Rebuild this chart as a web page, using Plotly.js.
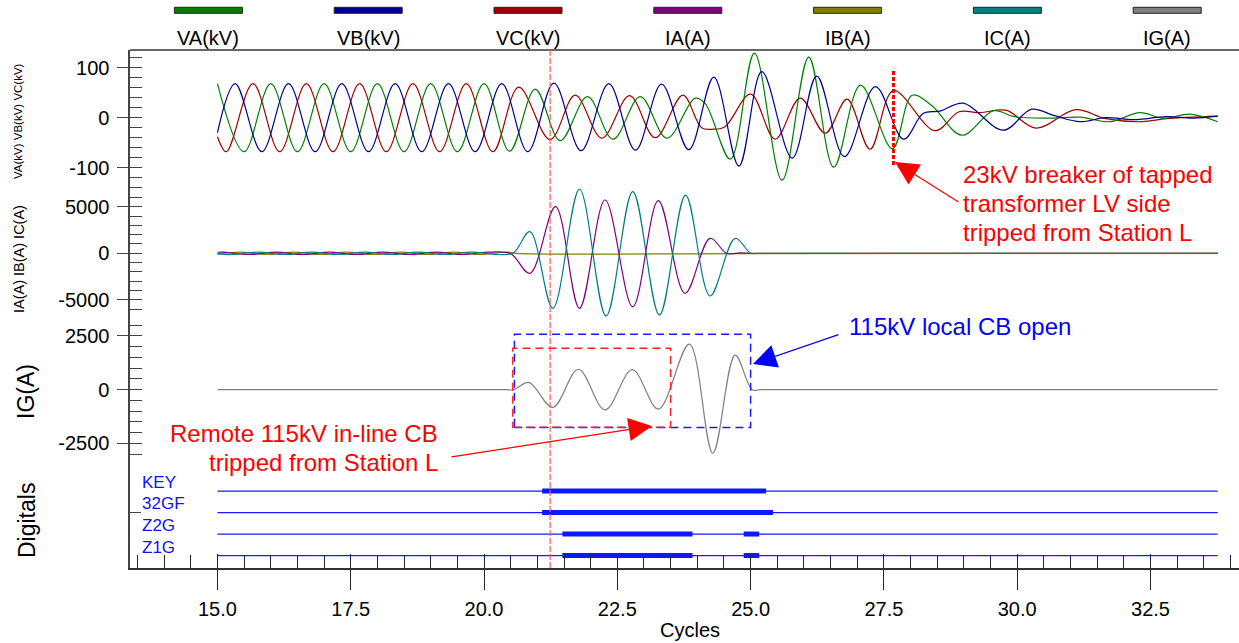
<!DOCTYPE html>
<html><head><meta charset="utf-8">
<script src="https://cdn.plot.ly/plotly-3.0.1.min.js"></script>
<style>html,body{margin:0;padding:0;background:#fff}#chart{width:1239px;height:643px}</style>
</head><body><div id="chart"></div>
<script>
// ---------------- data read from the record ----------------
const channelNames  = ['VA(kV)','VB(kV)','VC(kV)','IA(A)','IB(A)','IC(A)','IG(A)'];
const channelColors = ['#008000','#000090','#a00000','#800080','#808000','#008080','#808080'];

// waveform extrema (cycles, value)
const vaT = [15.0,15.5,16.0,16.5,17.0,17.5,18.0,18.5,19.0,19.5,20.0,20.48,20.96,21.43,21.94,22.42,22.93,23.43,23.96,24.15,24.62,25.07,25.59,26.09,26.56,27.06,27.66,28.03,28.4,28.96,29.56,29.94,30.56,31.18,31.74,32.3,32.74,33.24,33.76];
const vaV = [68,-68,68,-68,68,-68,68,-68,68,-68,68,-67,57,-46,42,-43,42,-41,39,28,-83,129,-125,121,-99,65,-62,45,24,-35,14,2,-1,1,-8,10,-1,7,-8];

const vbT = [15.0,15.333,15.833,16.333,16.833,17.333,17.833,18.333,18.833,19.333,19.833,20.333,20.82,21.31,21.82,22.34,22.84,23.33,23.84,24.31,24.78,25.21,25.78,26.24,26.76,27.34,27.87,28.24,28.55,28.99,29.74,30.27,30.7,31.18,31.66,32.2,32.8,33.3,33.76];
const vbV = [-30,68,-68,68,-68,68,-68,68,-68,68,-68,68,-68,69,-66,68,-65,67,-64,81,-97,92,-81,83,-78,62,-43,9,13,29,-25,17,4,-8,0,-4,2,-1,3];

const vcT = [15.0,15.167,15.667,16.167,16.667,17.167,17.667,18.167,18.667,19.167,19.667,20.167,20.65,21.24,21.71,22.21,22.73,23.21,23.73,24.08,24.3,24.52,25.0,25.46,25.93,26.4,26.81,27.24,27.68,28.46,28.91,29.3,29.79,30.35,31.1,31.66,32.35,32.8,33.76];
const vcV = [-38,-68,68,-68,68,-68,68,-68,68,-68,68,-68,61,-44,45,-41,44,-40,45,-20,-23,-18,47,-43,39,-31,37,-63,54,-26,12,10,15,-21,16,-2,-8,-2,3];

const iaT = [15.0,15.1,15.6,16.1,16.6,17.1,17.6,18.1,18.6,19.1,19.6,20.1,20.5,20.86,21.34,21.79,22.27,22.79,23.27,23.77,24.24,24.55,24.8,25.05,25.3,33.76];
const iaV = [110,130,-130,130,-130,130,-130,130,-130,130,-130,130,-40,-2150,5000,-5900,5720,-5730,5650,-4290,1610,0,40,0,0,0];

const ibT = [15.0,15.43,15.93,16.43,16.93,17.43,17.93,18.43,18.93,19.43,19.93,20.43,20.6,25.0,33.76];
const ibV = [-60,130,-130,130,-130,130,-130,130,-130,130,-130,130,0,-30,0];

const icT = [15.0,15.267,15.767,16.267,16.767,17.267,17.767,18.267,18.767,19.267,19.767,20.267,20.55,20.86,21.29,21.79,22.29,22.79,23.29,23.78,24.24,24.71,25.0,25.12,33.76];
const icV = [-60,-130,130,-130,130,-130,130,-130,130,-130,130,-130,30,2320,-5900,6870,-6730,6610,-6620,6250,-4580,1610,0,0,0];

const igT = [15.0,20.4,20.56,20.84,21.29,21.77,22.27,22.78,23.27,23.85,24.29,24.71,25.03,25.2,33.76];
const igV = [0,0,0,340,-820,950,-940,930,-900,2120,-2950,1610,0,0,0];

// digital channels: on-intervals (cycles)
const digitalNames = ['KEY','32GF','Z2G','Z1G'];
const digitalOn = [
  [[21.09,25.29]],
  [[21.09,25.42]],
  [[21.47,23.91],[24.87,25.16]],
  [[21.47,23.91],[24.87,25.16]]
];
const recordStart = 15.0, recordEnd = 33.76;

// events
const faultMark = 21.24;     // dashed red cursor
const lvTripMark = 27.68;    // 23kV breaker trip

// ticks
const xTickVals = [15,17.5,20,22.5,25,27.5,30,32.5];
const xTickText = ['15.0','17.5','20.0','22.5','25.0','27.5','30.0','32.5'];
const vTickVals = [-100,0,100];
const iTickVals = [-5000,0,5000];
const gTickVals = [-2500,0,2500];

// ---------------- layout helpers (pixel geometry) ----------------
const W = 1239, H = 643;
const PX = p => p / W;
const PY = p => 1 - p / H;
const FONT = 'Liberation Sans, Arial, sans-serif';
const AX = '#444';

const traces = [];
function wave(t, v, color, yaxis) {
  traces.push({x: t, y: v, type: 'scatter', mode: 'lines', xaxis: 'x', yaxis: yaxis,
    line: {color: color, width: 1.2, shape: 'spline', smoothing: 1, simplify: false},
    hoverinfo: 'skip', showlegend: false});
}
wave(vcT, vcV, channelColors[2], 'y');
wave(vaT, vaV, channelColors[0], 'y');
wave(vbT, vbV, channelColors[1], 'y');
wave(ibT, ibV, channelColors[4], 'y2');
wave(iaT, iaV, channelColors[3], 'y2');
wave(icT, icV, channelColors[5], 'y2');
wave(igT, igV, channelColors[6], 'y3');

// digital traces
digitalNames.forEach((nm, k) => {
  const lvl = digitalNames.length - k;
  traces.push({x: [recordStart, recordEnd], y: [lvl, lvl], type: 'scatter', mode: 'lines',
    xaxis: 'x', yaxis: 'y4', line: {color: '#1a1aff', width: 1.2}, hoverinfo: 'skip', showlegend: false});
  const xs = [], ys = [];
  digitalOn[k].forEach(seg => { xs.push(seg[0], seg[1], null); ys.push(lvl, lvl, null); });
  traces.push({x: xs, y: ys, type: 'scatter', mode: 'lines', xaxis: 'x', yaxis: 'y4',
    line: {color: '#0a1aff', width: 5}, hoverinfo: 'skip', showlegend: false});
});
// empty traces to carry twin tick axes
['y5','y6','y7'].forEach(a => traces.push({x: [], y: [], type: 'scatter', mode: 'lines', xaxis: 'x', yaxis: a, showlegend: false, hoverinfo: 'skip'}));
traces.push({x: [], y: [], type: 'scatter', mode: 'lines', xaxis: 'x2', yaxis: 'y4', showlegend: false, hoverinfo: 'skip'});

// panel geometry (pixels)
const plotL = 130, plotT = 50, plotB = 568;
const vTop = 50, vBot = 188.1, iBot = 318.5, gBot = 457.5;
const xRange = [13.36, 34.16];
const vRange = [-140.8, 135.4];
const iRange = [-6996, 6996];
const gRange = [-3151, 3309];
const dRange = [0.42, 5.56];

const tickFont = {family: FONT, size: 20, color: '#000'};
function yAx(dom, rng, vals, minorStep) {
  return {domain: dom, range: rng, anchor: 'x', tickmode: 'array', tickvals: vals,
    ticktext: vals.map(String), ticks: 'outside', ticklen: 11, tickwidth: 1, tickcolor: AX,
    showline: true, linecolor: AX, linewidth: 1.6, showgrid: false, zeroline: false,
    tickfont: tickFont, ticklabelstandoff: 4,
    minor: {dtick: minorStep, tick0: 0, ticks: 'inside', ticklen: 12, tickwidth: 1, tickcolor: AX, showgrid: false}};
}
function twin(over, dom, rng, vals) {
  return {overlaying: over, domain: dom, range: rng, anchor: 'x', side: 'left', tickmode: 'array', tickvals: vals,
    ticks: 'inside', ticklen: 12, tickwidth: 1, tickcolor: AX, showticklabels: false,
    showline: false, showgrid: false, zeroline: false};
}
const dV = [PY(vBot), PY(vTop)], dI = [PY(iBot), PY(vBot)], dG = [PY(gBot), PY(iBot)], dD = [PY(plotB), PY(gBot)];

const layout = {
  width: W, height: H, margin: {l: 0, r: 0, t: 0, b: 0},
  paper_bgcolor: '#fff', plot_bgcolor: '#fff', showlegend: false,
  font: {family: FONT, color: '#000'},
  xaxis: {domain: [PX(plotL), 1], range: xRange, anchor: 'y4', tickmode: 'array',
    tickvals: xTickVals, ticktext: xTickText, ticks: 'outside', ticklen: 20, tickwidth: 1, tickcolor: '#222',
    showline: true, linecolor: '#333', linewidth: 1.6, showgrid: false, zeroline: false,
    tickfont: tickFont, ticklabelstandoff: 2,
    minor: {dtick: 0.5, tick0: 0, ticks: 'inside', ticklen: 13, tickwidth: 1, tickcolor: '#222', showgrid: false}},
  xaxis2: {overlaying: 'x', domain: [PX(plotL), 1], range: xRange, anchor: 'y4', tickmode: 'array',
    tickvals: xTickVals, ticks: 'inside', ticklen: 14, tickwidth: 1, tickcolor: '#222',
    showticklabels: false, showline: false, showgrid: false, zeroline: false},
  yaxis: yAx(dV, vRange, vTickVals, 20),
  yaxis2: yAx(dI, iRange, iTickVals, 1000),
  yaxis3: yAx(dG, gRange, gTickVals, 500),
  yaxis4: {domain: dD, range: dRange, anchor: 'x', tickmode: 'array', tickvals: [3], ticks: 'inside',
    ticklen: 11, tickcolor: AX, showticklabels: false, showline: true, linecolor: AX, linewidth: 1.6,
    showgrid: false, zeroline: false},
  yaxis5: twin('y', dV, vRange, vTickVals),
  yaxis6: twin('y2', dI, iRange, iTickVals),
  yaxis7: twin('y3', dG, gRange, gTickVals),
  shapes: [], annotations: []
};

// top frame line
layout.shapes.push({type: 'line', xref: 'paper', yref: 'paper', x0: PX(plotL), x1: 1, y0: PY(plotT), y1: PY(plotT),
  line: {color: '#666', width: 2}});
// fault cursor
layout.shapes.push({type: 'line', xref: 'x', yref: 'paper', x0: faultMark, x1: faultMark, y0: PY(plotB), y1: PY(plotT),
  line: {color: '#ff5a5a', width: 1.2, dash: '6px,2px'}});
// LV breaker trip marker
layout.shapes.push({type: 'line', xref: 'x', yref: 'paper', x0: lvTripMark, x1: lvTripMark, y0: PY(165), y1: PY(70),
  line: {color: '#ff0000', width: 3, dash: '4px,2px'}});
// boxes on IG
layout.shapes.push({type: 'rect', xref: 'x', yref: 'y3', x0: 20.57, x1: 25.0, y0: -1760, y1: 2575,
  line: {color: '#1a1aff', width: 1.5, dash: '8px,5px'}, fillcolor: 'rgba(0,0,0,0)'});
layout.shapes.push({type: 'rect', xref: 'x', yref: 'y3', x0: 20.54, x1: 23.5, y0: -1745, y1: 1924,
  line: {color: '#ff2020', width: 1.5, dash: '8px,5px'}, fillcolor: 'rgba(0,0,0,0)'});

// legend (bars + labels)
channelNames.forEach((nm, k) => {
  const cx = 208.4 + k * 159.8;
  layout.shapes.push({type: 'rect', xref: 'paper', yref: 'paper', x0: PX(cx - 34), x1: PX(cx + 34),
    y0: PY(13.3), y1: PY(7.3), fillcolor: channelColors[k], line: {color: '#222', width: 1}});
  layout.annotations.push({xref: 'paper', yref: 'paper', x: PX(cx), y: PY(38), text: nm, showarrow: false,
    xanchor: 'center', yanchor: 'middle', font: {family: FONT, size: 20, color: '#000'}});
});

function txt(x, y, s, size, color, opts) {
  layout.annotations.push(Object.assign({xref: 'paper', yref: 'paper', x: PX(x), y: PY(y), text: s,
    showarrow: false, xanchor: 'center', yanchor: 'middle', font: {family: FONT, size: size, color: color}}, opts || {}));
}
// axis titles
txt(18, 121, 'VA(kV) VB(kV) VC(kV)', 11.5, '#000', {textangle: -90});
txt(19, 259, 'IA(A) IB(A) IC(A)', 14.5, '#000', {textangle: -90});
txt(26, 392, 'IG(A)', 23, '#000', {textangle: -90});
txt(27, 520, 'Digitals', 23, '#000', {textangle: -90});
txt(690, 630, 'Cycles', 20, '#000');
// digital labels
const digLabelY = [482, 503, 525, 547];
digitalNames.forEach((nm, k) => txt(140, digLabelY[k], nm, 17, '#1010ff', {xanchor: 'left'}));

// red note (right)
['23kV breaker of tapped', 'transformer LV side', 'tripped from Station L'].forEach((s, k) =>
  txt(961, 174 + k * 29.5, s, 24, '#ff0000', {xanchor: 'left'}));
// blue note
txt(847, 326, '115kV local CB open', 24, '#0000ff', {xanchor: 'left'});
// red note (left)
txt(440, 433, 'Remote 115kV in-line CB', 24, '#ff0000', {xanchor: 'right'});
txt(440, 462, 'tripped from Station L', 24, '#ff0000', {xanchor: 'right'});

// arrows
function arrow(tipX, tipY, tailX, tailY, color) {
  layout.annotations.push({xref: 'paper', yref: 'paper', x: PX(tipX), y: PY(tipY), text: '',
    showarrow: true, arrowhead: 2, arrowsize: 3.6, arrowwidth: 1.3, arrowcolor: color,
    ax: tailX - tipX, ay: tailY - tipY, standoff: 0});
}
arrow(895, 162, 960, 203, '#ff0000');
arrow(753, 364, 840, 334, '#0000ff');
arrow(652, 426, 450, 457, '#ff0000');

Plotly.newPlot('chart', traces, layout, {staticPlot: true, displayModeBar: false});
</script>
</body></html>
